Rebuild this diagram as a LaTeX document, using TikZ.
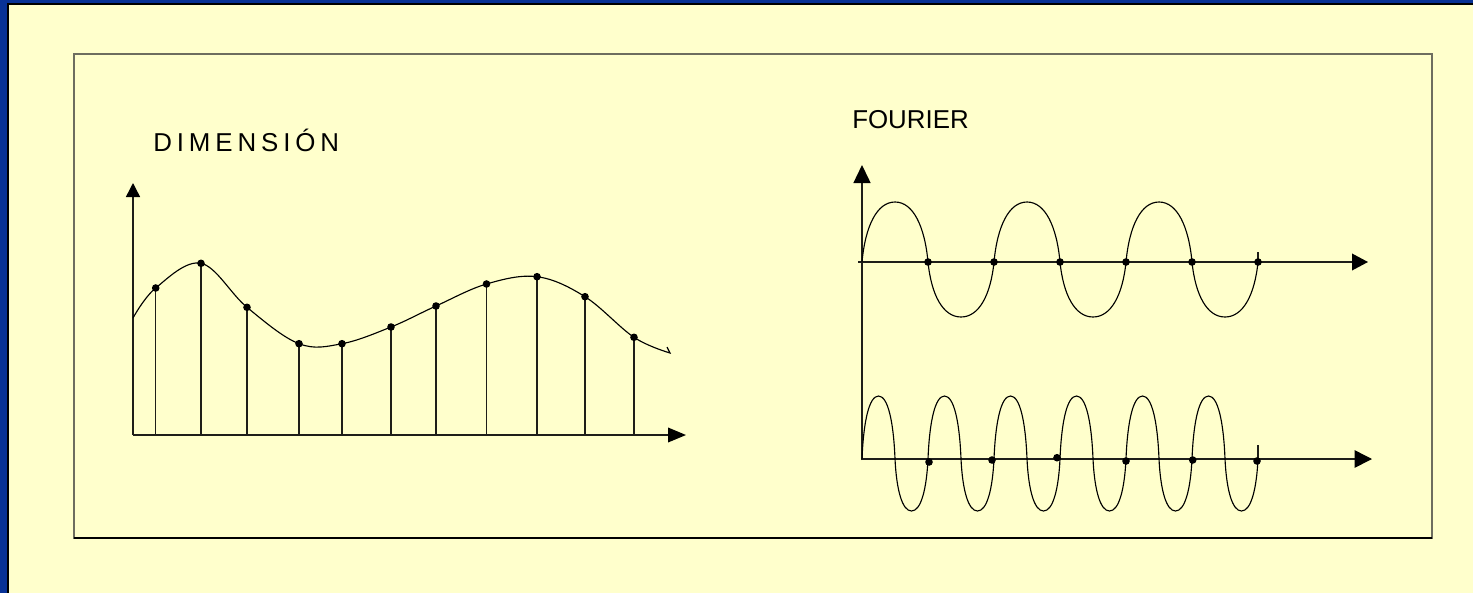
\documentclass[tikz,border=0pt]{standalone}
\usepackage{fontspec}
\setmainfont{Liberation Sans}
\usetikzlibrary{arrows.meta}

\begin{document}
\begin{tikzpicture}[x=0.75pt,y=0.75pt,yscale=-1,xscale=1,
  axisline/.style={color={rgb, 255:red, 30; green, 30; blue, 25 }, line width=1.1pt},
  stemline/.style={color={rgb, 255:red, 30; green, 30; blue, 25 }, line width=1pt},
  waveline/.style={color={rgb, 255:red, 0; green, 0; blue, 0 }, line width=0.85pt},
  labeltext/.style={inner sep=0pt, font=\fontsize{19.4}{23}\selectfont}]
\useasboundingbox (0,0) rectangle (1473,593);

%Background and slide border
\fill [color={rgb, 255:red, 255; green, 255; blue, 204 }] (0,0) rectangle (1473,593);
\fill [color={rgb, 255:red, 8; green, 50; blue, 150 }] (0,0) rectangle (1473,3);
\fill [color={rgb, 255:red, 8; green, 50; blue, 150 }] (0,0) rectangle (6.5,593);
\fill [color={rgb, 255:red, 0; green, 0; blue, 0 }] (6.5,3) rectangle (1473,5);
\fill [color={rgb, 255:red, 0; green, 0; blue, 0 }] (6.5,3) rectangle (8.5,593);

%Shape: Rectangle [frame]
\draw [color={rgb, 255:red, 110; green, 110; blue, 95 }, line width=1.2pt] (74,54) rectangle (1432,538);
\draw [color={rgb, 255:red, 0; green, 0; blue, 0 }, line width=1.2pt] (74,538) -- (1432,538);

%Axes of the sampled signal
\coordinate (dimO) at (133,435);
\coordinate (dimY) at (133,183);
\coordinate (dimX) at (686,435);
\draw [axisline, -{Triangle[length=10.5pt,width=10.5pt,color=black]}] (dimO) -- (dimY);
\draw [axisline, -{Triangle[length=13.5pt,width=11pt,color=black]}] (dimO) -- (dimX);

%Curve: sampled signal
\draw [waveline] plot [smooth, tension=0.6] coordinates {(133,318) (155.7,288) (201,263.3) (247,307.3) (299,343.7) (342,343.7) (391,327) (436,306) (486.5,284) (537,276.7) (585,296.7) (634,337.3) (670,353)} -- (667,347);

%Samples
\foreach \sx/\sy in {155.7/288, 201/263.3, 247/307.3, 299/343.7, 342/343.7, 391/327, 436/306, 486.5/284, 537/276.7, 585/296.7, 634/337.3} {
  \draw [stemline] (\sx,\sy) -- (\sx,435);
  \fill (\sx,\sy) circle [radius=3.8];
}

%Axes of the Fourier waves
\coordinate (fouTop) at (862,165);
\coordinate (fouBot) at (862,460);
\coordinate (waveAo) at (858,262);
\coordinate (waveAx) at (1368,262);
\coordinate (waveBo) at (861,459);
\coordinate (waveBx) at (1372,459);
\draw [axisline, -{Triangle[length=13.5pt,width=12.75pt,color=black]}] (fouBot) -- (fouTop);
\draw [axisline, -{Triangle[length=12pt,width=12.5pt,color=black]}] (waveAo) -- (waveAx);
\draw [axisline, -{Triangle[length=13pt,width=13pt,color=black]}] (waveBo) -- (waveBx);

%Wave: first harmonic
\foreach \xs in {862,994,1126}
  \draw [waveline] (\xs,262) .. controls (\xs+3.3,226) and (\xs+15,202) .. (\xs+33,202) .. controls (\xs+51,202) and (\xs+62.7,226) .. (\xs+66,262);
\foreach \xs in {928,1060,1192}
  \draw [waveline] (\xs,262) .. controls (\xs+3.3,295) and (\xs+15,317) .. (\xs+33,317) .. controls (\xs+51,317) and (\xs+62.7,295) .. (\xs+66,262);
\draw [stemline] (1258,252) -- (1258,262);
\foreach \sx in {928,994,1060,1126,1192,1258}
  \fill (\sx,262) circle [radius=3.8];

%Wave: second harmonic
\foreach \xs in {862,928,...,1192}
  \draw [waveline] (\xs,459) .. controls (\xs+1.5,421) and (\xs+7.2,396) .. (\xs+16.5,396) .. controls (\xs+25.8,396) and (\xs+31.5,421) .. (\xs+33,459);
\foreach \xs in {895,961,...,1225}
  \draw [waveline] (\xs,459) .. controls (\xs+1.5,490) and (\xs+7.2,511) .. (\xs+16.5,511) .. controls (\xs+25.8,511) and (\xs+31.5,490) .. (\xs+33,459);
\draw [stemline] (1258,445) -- (1258,459);
\foreach \sx/\sy in {929/462, 992/460, 1057/457.7, 1126/461, 1192.7/460, 1257/461}
  \fill (\sx,\sy) circle [radius=3.8];

% Text Node
\node [labeltext, anchor=base west] (dimlabel) at (153,151.7) {\addfontfeature{LetterSpace=19}DIMENSIÓN};
% Text Node
\node [labeltext, anchor=base west] (fourierlabel) at (852,128) {FOURIER};

\end{tikzpicture}
\end{document}
